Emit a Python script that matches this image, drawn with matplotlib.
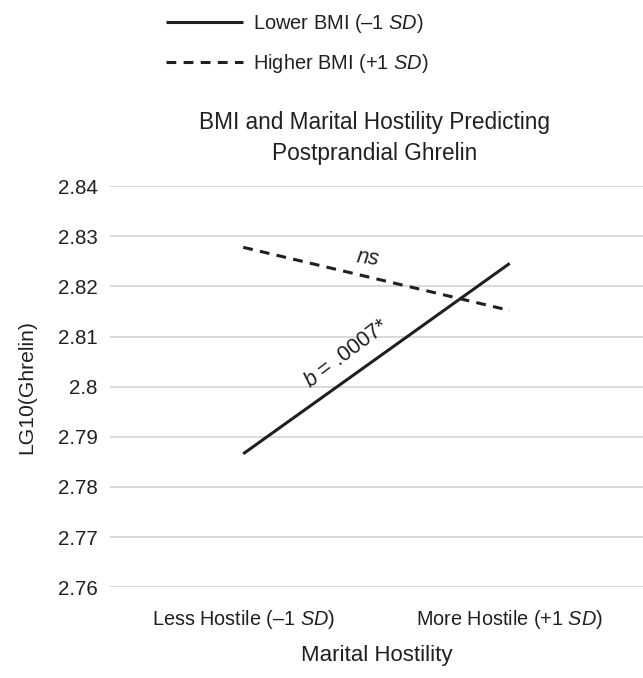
import matplotlib
matplotlib.use("Agg")
import matplotlib.pyplot as plt

plt.rcParams['font.family'] = ['Liberation Sans', 'DejaVu Sans']
plt.rcParams['mathtext.fontset'] = 'custom'
plt.rcParams['mathtext.rm'] = 'Liberation Sans'
plt.rcParams['mathtext.it'] = 'Liberation Sans:italic'

categories = ['Less Hostile (\u20131 $SD$)', 'More Hostile (+1 $SD$)']
lower_bmi = [2.7866, 2.8246]
higher_bmi = [2.8278, 2.8152]
yticks = [2.76, 2.77, 2.78, 2.79, 2.80, 2.81, 2.82, 2.83, 2.84]
ytick_labels = ['2.76', '2.77', '2.78', '2.79', '2.8', '2.81', '2.82', '2.83', '2.84']

text_color = '#231f20'

fig = plt.figure(figsize=(6.43, 6.78), dpi=100)
ax = fig.add_axes([0.171, 0.134, 0.829, 0.5914])

x = [0, 1]
ax.plot(x, lower_bmi, color=text_color, lw=2.2, solid_capstyle='butt',
        label='Lower BMI (\u20131 $SD$)')
ax.plot(x, higher_bmi, color=text_color, lw=2.2, dashes=(3.2, 2.4),
        label='Higher BMI (+1 $SD$)')

ax.set_xlim(-0.5, 1.5)
ax.set_ylim(2.76, 2.84)
ax.set_yticks(yticks)
ax.set_yticklabels(ytick_labels)
ax.set_xticks(x)
ax.set_xticklabels(categories)
ax.grid(axis='y', color='#d9d9d9', lw=1.4)
ax.set_axisbelow(True)
for s in ax.spines.values():
    s.set_visible(False)
ax.tick_params(axis='x', length=0, labelsize=14.3, colors=text_color, pad=15)
ax.tick_params(axis='y', length=0, labelsize=14.8, colors=text_color, pad=9)

ax.set_xlabel('Marital Hostility', fontsize=16, color=text_color, labelpad=10)
ax.set_ylabel('LG10(Ghrelin)', fontsize=15.2, color=text_color, labelpad=15)
ax.set_title('BMI and Marital Hostility Predicting\nPostprandial Ghrelin',
             fontsize=16.3, color=text_color, pad=19, linespacing=1.45, x=0.497)

ax.text(0.468, 2.8256, '$ns$', fontsize=15.5, rotation=-8, color=text_color,
        ha='center', va='center')
ax.text(0.386, 2.8065, '$b$ = .0007*', fontsize=15.5, rotation=37, color=text_color,
        ha='center', va='center')

fig.legend(loc='upper left', bbox_to_anchor=(154 / 643, 1.0),
           frameon=False, fontsize=14.4, handlelength=3.85, handletextpad=0.5,
           labelspacing=0.85, borderpad=0.12, labelcolor=text_color)

fig.savefig('out.png', dpi=100)
